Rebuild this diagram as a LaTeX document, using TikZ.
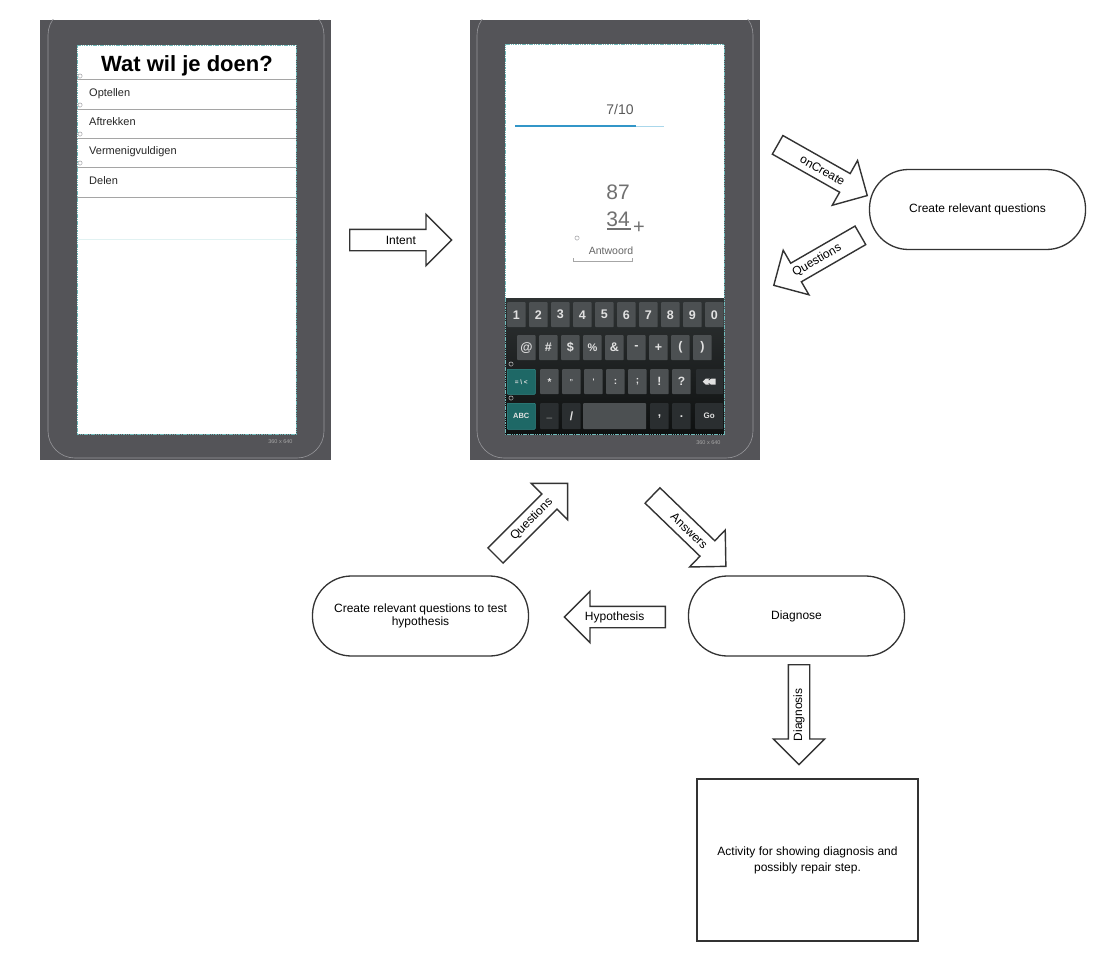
\documentclass[tikz,border=0pt]{standalone}
\usepackage{fontspec}
\setmainfont{Liberation Sans}
\usetikzlibrary{shapes.arrows,calc}
\definecolor{phone}{RGB}{84,84,88}
\definecolor{rim}{RGB}{150,150,154}
\definecolor{scrborder}{RGB}{110,185,185}
\definecolor{sep}{RGB}{165,165,165}
\definecolor{faint}{RGB}{225,242,242}
\definecolor{ink}{RGB}{51,51,51}
\definecolor{keymid}{RGB}{76,80,82}
\definecolor{keydark}{RGB}{42,46,48}
\definecolor{keyteal}{RGB}{30,104,102}
\definecolor{tealedge}{RGB}{50,140,138}
\definecolor{kbtop}{RGB}{46,50,51}
\definecolor{kbbot}{RGB}{14,16,16}
\definecolor{keytext}{RGB}{225,225,225}
\definecolor{numgray}{RGB}{112,112,112}
\definecolor{labgray}{RGB}{90,90,90}
\definecolor{progblue}{RGB}{51,150,200}
\definecolor{proglight}{RGB}{170,215,235}
\tikzset{
  flowarrow/.style={single arrow, draw=ink, line width=1.4pt, fill=white,
    single arrow head extend=15pt, single arrow tip angle=90,
    inner xsep=2pt, inner ysep=4.5pt, text height=8.5pt, text depth=2.5pt,
    anchor=tail},
  arrowlabel/.style={font=\fontsize{12}{13}\selectfont, inner sep=0pt},
  stadium/.style={draw=ink, line width=1.3pt, rounded corners=39pt,
    minimum width=216pt, minimum height=80pt, align=center,
    font=\fontsize{12}{13.5}\selectfont, fill=white},
  actbox/.style={draw=ink, line width=1.3pt, minimum width=221pt,
    minimum height=162pt, align=center, font=\fontsize{12}{16}\selectfont},
  keybase/.style={rounded corners=0.8pt, text=keytext, inner sep=0pt,
    anchor=north west, minimum width=18.5pt, minimum height=25pt},
  keym/.style={keybase, fill=keymid, font=\bfseries\fontsize{12.5}{12.5}\selectfont},
  keyms/.style={keybase, fill=keymid, font=\bfseries\fontsize{10}{10}\selectfont},
  keyd/.style={keybase, fill=keydark, font=\bfseries\fontsize{10}{10}\selectfont},
  keyt/.style={keybase, fill=keyteal, draw=tealedge, line width=0.5pt,
    minimum width=28pt, font=\bfseries\fontsize{6.5}{6.5}\selectfont},
  gearmark/.style={circle, draw=#1, inner sep=0pt, minimum size=4.2pt,
    line width=0.55pt, dash pattern=on 0.7pt off 0.45pt},
  gearmark/.default={rim},
  listitem/.style={anchor=base west, inner sep=0pt, font=\fontsize{11}{12}\selectfont, text=black!85},
  dimlabel/.style={anchor=base east, font=\fontsize{5.5}{6}\selectfont, text=black!35}
}
\begin{document}
\begin{tikzpicture}[x=1pt,y=-1pt]
\useasboundingbox[fill=white] (0,0) rectangle (1110,960);

% ---------------- left phone ----------------
\fill[phone] (40,20) rectangle (331,460);
\begin{scope}
  \clip (40,20) rectangle (331,460);
  \draw[rim, line width=0.6pt, rounded corners=27pt] (48,8) rectangle (324,458);
\end{scope}
\node[draw=scrborder, fill=white, line width=0.5pt, dash pattern=on 1.5pt off 0.8pt,
      minimum width=219pt, minimum height=389pt, inner sep=0pt, anchor=north west]
      (screenA) at (77,45) {};
\node[anchor=base, font=\bfseries\fontsize{22}{22}\selectfont] (title) at (187,72) {Wat wil je doen?};
\foreach \yy in {79,109,138,167,197}
  \draw[sep, line width=0.8pt] (77,\yy) -- (296,\yy);
\draw[faint, line width=1pt] (77,239) -- (296,239);
\node[listitem] (i1) at (89,97) {Optellen};
\node[listitem] (i2) at (89,126) {Aftrekken};
\node[listitem] (i3) at (89,155) {Vermenigvuldigen};
\node[listitem] (i4) at (89,185) {Delen};
\node[gearmark] (ga1) at (80,76) {};
\node[gearmark] (ga2) at (80,105) {};
\node[gearmark] (ga3) at (80,134) {};
\node[gearmark] (ga4) at (80,163) {};
\node[dimlabel] (dimA) at (296,443) {360 x 640};

% ---------------- right phone ----------------
\fill[phone] (470,20) rectangle (760,460);
\begin{scope}
  \clip (470,20) rectangle (760,460);
  \draw[rim, line width=0.6pt, rounded corners=27pt] (477,8) rectangle (753,458);
\end{scope}
\node[draw=scrborder, fill=white, line width=0.5pt, dash pattern=on 1.5pt off 0.8pt,
      minimum width=219pt, minimum height=390pt, inner sep=0pt, anchor=north west]
      (screenB) at (505,44) {};
\node[anchor=base, font=\fontsize{14}{14}\selectfont, text=labgray] (prog) at (620,115) {7/10};
\draw[proglight, line width=0.8pt] (515,126) -- (664,126);
\draw[progblue, line width=1.3pt] (515,126) -- (636,126);
\node[anchor=base, font=\fontsize{21}{21}\selectfont, text=numgray] (n1) at (618,199) {87};
\node[anchor=base, font=\fontsize{21}{21}\selectfont, text=numgray] (n2) at (618,226) {34};
\draw[numgray, line width=1.4pt] (607,229) -- (631,229);
\node[font=\fontsize{20}{20}\selectfont, text=numgray, inner sep=0pt] (plus) at (639,228) {+};
\node[gearmark] (gb1) at (577,238) {};
\node[anchor=base, font=\fontsize{10.5}{12}\selectfont, text=black!60] (ans) at (611,254) {Antwoord};
\draw[black!35, line width=0.6pt] (573,258) -- (573,261) -- (632,261) -- (632,258);

% keyboard
\shade[top color=kbtop, bottom color=kbbot] (505,298) rectangle (724,434);
\draw[scrborder, line width=0.5pt, dash pattern=on 1.5pt off 0.8pt] (505,298) -- (505,434) -- (724,434) -- (724,298);
\node[keym] (k1) at (507,302) {1};
\node[keym] (k2) at (529,302) {2};
\node[keym] (k3) at (551,302) {3};
\node[keym] (k4) at (573,302) {4};
\node[keym] (k5) at (595,302) {5};
\node[keym] (k6) at (617,302) {6};
\node[keym] (k7) at (639,302) {7};
\node[keym] (k8) at (661,302) {8};
\node[keym] (k9) at (683,302) {9};
\node[keym] (k0) at (705,302) {0};
\node[keym] (kat) at (517,335) {@};
\node[keym] (khash) at (539,335) {\#};
\node[keym] (kdollar) at (561,335) {\$};
\node[keym, font=\bfseries\fontsize{11}{11}\selectfont] (kperc) at (583,335) {\%};
\node[keym] (kamp) at (605,335) {\&};
\node[keym] (kminus) at (627,335) {-};
\node[keym] (kplus) at (649,335) {+};
\node[keym] (klpar) at (671,335) {(};
\node[keym] (krpar) at (693,335) {)};
\node[keyt] (ksym) at (507,369) {= \textbackslash{} <};
\node[keyms] (kstar) at (540,369) {*};
\node[keyms, font=\bfseries\fontsize{7}{7}\selectfont] (kdq) at (562,369) {"};
\node[keyms, font=\bfseries\fontsize{8}{8}\selectfont] (ksq) at (584,369) {\textquotesingle};
\node[keyms] (kcolon) at (606,369) {:};
\node[keyms] (ksemi) at (628,369) {;};
\node[keyms, font=\bfseries\fontsize{12}{12}\selectfont] (kexcl) at (650,369) {!};
\node[keyms, font=\bfseries\fontsize{12}{12}\selectfont] (kq) at (672,369) {?};
\node[keyd, minimum width=27pt] (kback) at (696,369) {};
\fill[keytext] ([xshift=-7pt]kback.center) -- ++(3,-3) -- ++(10,0) -- ++(0,6) -- ++(-10,0) -- cycle;
\draw[keydark, line width=0.7pt] ([xshift=-1pt,yshift=-1.6pt]kback.center) -- ++(3.2,3.2)
      ([xshift=-1pt,yshift=1.6pt]kback.center) -- ++(3.2,-3.2);
\node[keyt, minimum height=26pt, font=\bfseries\fontsize{7.5}{7.5}\selectfont] (kabc) at (507,403) {ABC};
\node[keyd, minimum height=26pt] (kund) at (540,403) {\raisebox{-4pt}{\_}};
\node[keyd, minimum height=26pt, font=\bfseries\fontsize{12}{12}\selectfont] (kslash) at (562,403) {/};
\node[keym, minimum height=26pt, minimum width=63pt] (kspace) at (583,403) {};
\node[keyd, minimum height=26pt, font=\bfseries\fontsize{12}{12}\selectfont] (kcomma) at (650,403) {,};
\node[keyd, minimum height=26pt, font=\bfseries\fontsize{12}{12}\selectfont] (kdot) at (672,403) {.};
\node[keyd, minimum height=26pt, minimum width=28pt, font=\bfseries\fontsize{8}{8}\selectfont] (kgo) at (695,403) {Go};
\node[gearmark=black!15] (gb2) at (511,364) {};
\node[gearmark=black!15] (gb3) at (511,398) {};
\node[dimlabel] (dimB) at (724,444) {360 x 640};

% ---------------- flow nodes ----------------
\node[stadium] (crq) at (977.5,209.5) {Create relevant questions};
\node[stadium] (diag) at (796.5,616) {Diagnose};
\node[stadium] (crqh) at (420.5,616) {Create relevant questions to test\\hypothesis};
\node[actbox] (act) at (807.5,860) {Activity for showing diagnosis and\\possibly repair step.};

% ---------------- block arrows ----------------
\node[flowarrow, minimum height=102pt] (aIntent) at (349,240) {};
\node[flowarrow, minimum height=103pt, rotate=-29.5] (aCreate) at (777,144.5) {};
\node[flowarrow, minimum height=100pt, rotate=30, shape border rotate=180] (aQ1) at (861,235) {};
\node[flowarrow, minimum height=102pt, rotate=45] (aQ2) at (495,556) {};
\node[flowarrow, minimum height=102pt, rotate=-44] (aAns) at (652,495) {};
\node[flowarrow, minimum height=101pt, shape border rotate=180] (aHyp) at (666,617) {};
\node[flowarrow, minimum height=100pt, rotate=90, shape border rotate=180] (aDiag) at (799,664) {};

\node[arrowlabel] (lIntent) at ($(aIntent.tail)!0.5!(aIntent.tip)$) {Intent};
\node[arrowlabel, rotate=-29.5] (lCreate) at ($(aCreate.tail)!0.5!(aCreate.tip)$) {onCreate};
\node[arrowlabel, rotate=30] (lQ1) at ($(aQ1.tail)!0.5!(aQ1.tip)$) {Questions};
\node[arrowlabel, rotate=45] (lQ2) at ($(aQ2.tail)!0.5!(aQ2.tip)$) {Questions};
\node[arrowlabel, rotate=-44] (lAns) at ($(aAns.tail)!0.5!(aAns.tip)$) {Answers};
\node[arrowlabel] (lHyp) at ($(aHyp.tail)!0.5!(aHyp.tip)$) {Hypothesis};
\node[arrowlabel, rotate=90] (lDiag) at ($(aDiag.tail)!0.5!(aDiag.tip)$) {Diagnosis};
\end{tikzpicture}
\end{document}
